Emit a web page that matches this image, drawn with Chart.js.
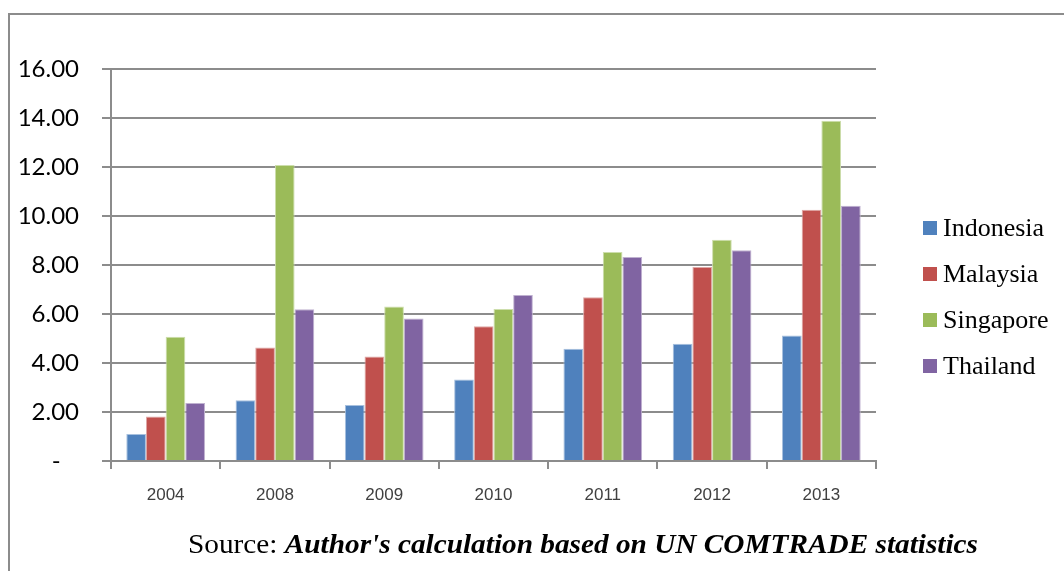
<!DOCTYPE html>
<html>
<head>
<meta charset="utf-8">
<script src="https://cdn.jsdelivr.net/npm/chart.js@4.4.1/dist/chart.umd.min.js"></script>
<style>
  html, body { margin: 0; padding: 0; background: #fff; }
  #wrap { width: 1064px; height: 571px; position: relative; }
</style>
</head>
<body>
<div id="wrap"><canvas id="myChart"></canvas></div>
<script>
// data
const years = ['2004', '2008', '2009', '2010', '2011', '2012', '2013'];
const indonesia = [1.10, 2.48, 2.29, 3.33, 4.58, 4.79, 5.12];
const malaysia  = [1.82, 4.63, 4.27, 5.50, 6.68, 7.92, 10.26];
const singapore = [5.07, 12.08, 6.31, 6.20, 8.53, 9.03, 13.89];
const thailand  = [2.37, 6.19, 5.82, 6.78, 8.33, 8.60, 10.42];
const seriesNames = ['Indonesia', 'Malaysia', 'Singapore', 'Thailand'];
const sourceLabel = 'Source: ';
const sourceText = "Author's calculation based on UN COMTRADE statistics";

const fills   = ['#4f81bd', '#c0504d', '#9bbb59', '#8064a2'];
const borders = ['#a7c0de', '#dfa8a6', '#cddeac', '#bfb1d0'];
const gridColor = '#8c8c8c';

// outer frame of the figure
const framePlugin = {
  id: 'frame',
  beforeDraw(chart) {
    const ctx = chart.ctx;
    ctx.save();
    ctx.strokeStyle = '#8c8c8c';
    ctx.lineWidth = 2;
    ctx.beginPath();
    ctx.moveTo(9, 571);
    ctx.lineTo(9, 14);
    ctx.lineTo(1064, 14);
    ctx.stroke();
    ctx.restore();
  }
};

// legend on the right, drawn by hand so spacing matches
const legendPlugin = {
  id: 'sideLegend',
  afterDraw(chart) {
    const ctx = chart.ctx;
    ctx.save();
    ctx.font = '26px "Liberation Serif"';
    ctx.textBaseline = 'alphabetic';
    chart.data.datasets.forEach((ds, i) => {
      const y = 221 + i * 46;
      ctx.fillStyle = ds.backgroundColor;
      ctx.fillRect(923, y, 14, 14);
      ctx.fillStyle = '#000';
      ctx.fillText(ds.label, 943, y + 15);
    });
    ctx.restore();
  }
};

// source line under the chart
const sourcePlugin = {
  id: 'source',
  afterDraw(chart) {
    const ctx = chart.ctx;
    ctx.save();
    const regular = '28px "Liberation Serif"';
    const bold = 'italic bold 28px "Liberation Serif"';
    ctx.font = regular;
    const w1 = ctx.measureText(sourceLabel).width;
    ctx.font = bold;
    const w2 = ctx.measureText(sourceText).width;
    const sx = 790 / (w1 + w2);
    ctx.translate(188, 553);
    ctx.scale(sx, 1);
    ctx.fillStyle = '#000';
    ctx.textBaseline = 'alphabetic';
    ctx.font = regular;
    ctx.fillText(sourceLabel, 0, 0);
    ctx.font = bold;
    ctx.fillText(sourceText, w1, 0);
    ctx.restore();
  }
};

const seriesValues = [indonesia, malaysia, singapore, thailand];

const data = {
  labels: years,
  datasets: seriesNames.map((name, i) => ({
    label: name,
    data: seriesValues[i],
    backgroundColor: fills[i],
    borderColor: borders[i],
    borderWidth: 1,
    categoryPercentage: 0.72,
    barPercentage: 1.0
  }))
};

const config = {
  type: 'bar',
  data: data,
  options: {
    responsive: false,
    animation: false,
    devicePixelRatio: 1,
    layout: { padding: { left: 9, top: 69, right: 188, bottom: 70 } },
    plugins: {
      legend: { display: false },
      tooltip: { enabled: false }
    },
    scales: {
      x: {
        offset: true,
        grid: {
          display: true,
          drawOnChartArea: false,
          drawTicks: true,
          tickLength: 8,
          color: gridColor,
          lineWidth: 2,
          offset: true
        },
        border: { display: true, color: gridColor, width: 2 },
        ticks: {
          color: '#404040',
          font: { family: '"Liberation Sans"', size: 17 },
          padding: 16,
          maxRotation: 0
        },
        afterFit(scale) { scale.height = 40; }
      },
      y: {
        min: 0,
        max: 16,
        ticks: {
          stepSize: 2,
          color: '#000',
          font: { family: 'Lato', size: 24 },
          padding: 23,
          callback: (v) => v === 0 ? '-   ' : v.toFixed(2)
        },
        grid: {
          color: gridColor,
          lineWidth: 2,
          tickLength: 9,
          drawTicks: true
        },
        border: { display: true, color: gridColor, width: 2 },
        afterFit(scale) { scale.width = 102; }
      }
    }
  },
  plugins: [framePlugin, legendPlugin, sourcePlugin]
};

const canvas = document.getElementById('myChart');
canvas.width = 1064;
canvas.height = 571;
const myChart = new Chart(canvas, config);
</script>
</body>
</html>
